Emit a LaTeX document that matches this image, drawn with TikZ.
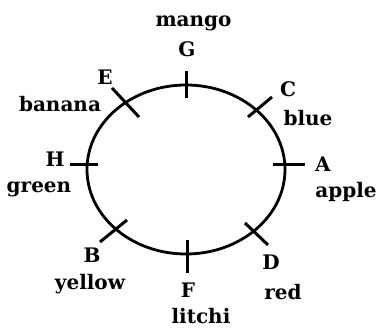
\documentclass[tikz,border=0pt]{standalone}
\usepackage{fontspec}
\setmainfont{DejaVu Serif}
\usetikzlibrary{positioning}

\tikzset{
  ring/.style={line width=2.8pt},
  tick/.style={line width=3pt},
  lab/.style={anchor=base, inner sep=0pt, font=\fontsize{20}{22}\selectfont\bfseries}
}

\begin{document}
\begin{tikzpicture}[x=1pt, y=-1pt]

    \useasboundingbox (0,0) rectangle (384,331);

    % Ring
    \draw[ring] (186,169.5) ellipse [x radius=99pt, y radius=84.5pt];

    % ================================
    % Marks on the ring

    \coordinate (pG) at (186,85);
    \coordinate (pC) at (260,107);
    \coordinate (pA) at (285,165);
    \coordinate (pD) at (256,234);
    \coordinate (pF) at (187,254);
    \coordinate (pB) at (114,231);
    \coordinate (pH) at (87,165);
    \coordinate (pE) at (125,103);

    \draw[tick] (pG) ++(0,-14) -- ++(0,27);
    \draw[tick] (pC) ++(12,-10) -- ++(-24,20);
    \draw[tick] (pA) ++(-12,0) -- ++(32,0);
    \draw[tick] (pD) ++(-11,-11) -- ++(23,22);
    \draw[tick] (pF) ++(0,-14) -- ++(0,33);
    \draw[tick] (pB) ++(-14,11) -- ++(27,-22);
    \draw[tick] (pH) ++(-17,0) -- ++(28,0);
    \draw[tick] (pE) ++(-13,-15) -- ++(27,29);

    % ================================
    % Labels

    \node[lab] (mango)  at (193.5,27) {mango};
    \node[lab] (labG)   at (187,56.5) {G};

    \node[lab] (labC)   at (288,97)   {C};
    \node[lab] (blue)   at (308,126)  {blue};

    \node[lab] (labA)   at (323,172)  {A};
    \node[lab] (apple)  at (346,198)  {apple};

    \node[lab] (labD)   at (271,270)  {D};
    \node[lab] (red)    at (283,300)  {red};

    \node[lab] (labF)   at (188,298)  {F};
    \node[lab] (litchi) at (201,324)  {litchi};

    \node[lab] (labB)   at (92,263)   {B};
    \node[lab] (yellow) at (90,290)   {yellow};

    \node[lab] (labH)   at (55,167)   {H};
    \node[lab] (green)  at (39,193)   {green};

    \node[lab] (labE)   at (105,85)   {E};
    \node[lab] (banana) at (60,112)   {banana};

\end{tikzpicture}
\end{document}
